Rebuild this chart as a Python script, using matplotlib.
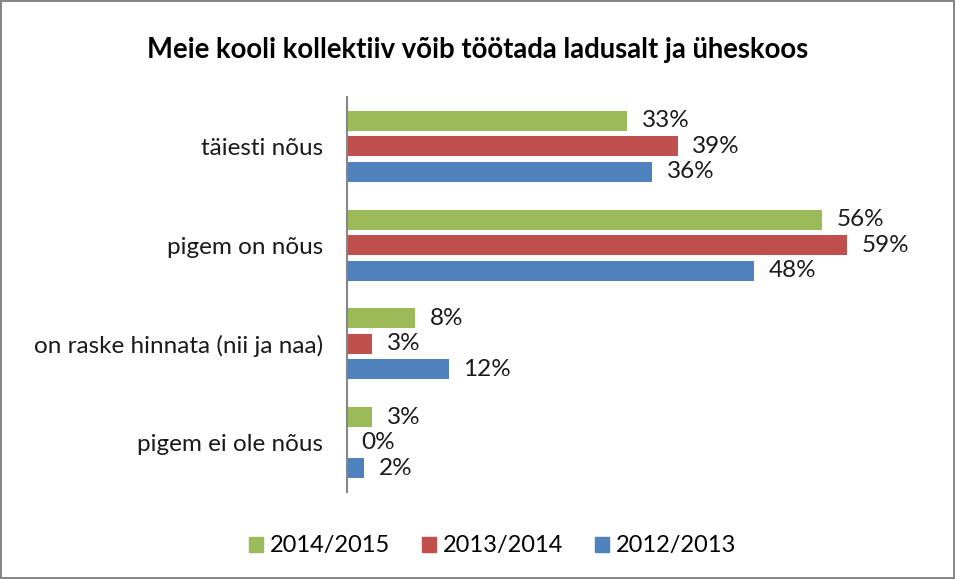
import numpy as np
import matplotlib
matplotlib.use("Agg")
import matplotlib.pyplot as plt
from matplotlib.patches import Patch

plt.rcParams['font.family'] = ['Lato', 'DejaVu Sans']

# ---- DATA ----
categories = ["täiesti nõus", "pigem on nõus", "on raske hinnata (nii ja naa)", "pigem ei ole nõus"]
series_names = ["2014/2015", "2013/2014", "2012/2013"]
v_2014_2015 = [33, 56, 8, 3]
v_2013_2014 = [39, 59, 3, 0]
v_2012_2013 = [36, 48, 12, 2]
colors = ["#9BBB59", "#C0504D", "#4F81BD"]

TITLE = "Meie kooli kollektiiv võib töötada ladusalt ja üheskoos"

fig = plt.figure(figsize=(9.55, 5.79), dpi=100)
fig.patch.set_edgecolor("#868686")
fig.patch.set_linewidth(1.5)
ax = fig.add_axes([0.3634, 0.1503, 0.6216, 0.6822])

y = np.arange(len(categories))
pitch = 0.258
height = 0.2025
all_vals = [v_2014_2015, v_2013_2014, v_2012_2013]
for k, (vals, col) in enumerate(zip(all_vals, colors)):
    pos = y + (k - 1) * pitch
    ax.barh(pos, vals, height=height, color=col, label=series_names[k])
    for p, v in zip(pos, vals):
        ax.annotate(f"{v}%", (v, p), xytext=(10.5, 0), textcoords="offset points",
                    va="center", ha="left", fontsize=17.5, color="#1a1a1a")

ax.set_xlim(0, 70)
ax.set_ylim(len(categories) - 0.5, -0.5)
ax.set_yticks(y)
ax.set_yticklabels(categories, fontsize=17.5, color="#1a1a1a")
ax.tick_params(axis="y", length=0, pad=17)
ax.set_xticks([])
for s in ["top", "right", "bottom"]:
    ax.spines[s].set_visible(False)
ax.spines["left"].set_color("#868686")
ax.spines["left"].set_linewidth(1.5)

fig.text(0.5, 0.913, TITLE, ha="center", va="center", fontsize=19.8, fontweight="bold")

handles = [Patch(color=c) for c in colors]
fig.legend(handles, series_names, loc="center", bbox_to_anchor=(0.516, 0.057), ncol=3,
           frameon=False, fontsize=17, handlelength=0.58, handleheight=0.58,
           handletextpad=0.3, columnspacing=1.35)

fig.savefig("out.png", dpi=100)
